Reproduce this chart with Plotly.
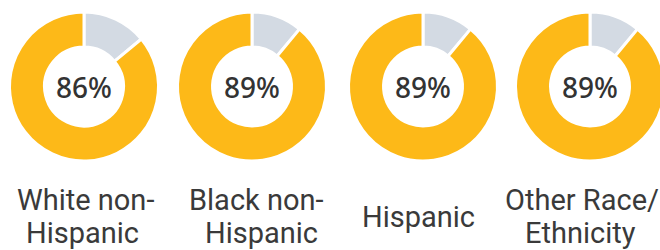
import plotly.graph_objects as go

groups = ["White non-<br>Hispanic", "Black non-<br>Hispanic", "Hispanic", "Other Race/<br>Ethnicity"]
pct_yes = [86, 89, 89, 89]
pct_no = [14, 11, 11, 11]
center_labels = ["86%", "89%", "89%", "89%"]

W, H = 676, 250
donut_cx = [84, 252, 423, 590]
# per-line horizontal centres of the category labels
label_line_cx = [[85.5, 82.5], [256.5, 261], [418], [581.5, 580.5]]
cy, r = 86.5, 74.5
line_gap = 32.6
label_mid = 216.5

YELLOW = "#FDB918"
GRAY = "#D3DAE3"

fig = go.Figure()
for i in range(len(groups)):
    cx = donut_cx[i]
    fig.add_trace(go.Pie(
        values=[pct_no[i], pct_yes[i]],
        labels=["No", "Yes"],
        sort=False,
        direction="clockwise",
        rotation=0,
        hole=0.53,
        marker=dict(colors=[GRAY, YELLOW], line=dict(color="white", width=3)),
        textinfo="none",
        hoverinfo="skip",
        showlegend=False,
        domain=dict(x=[(cx - r) / W, (cx + r) / W], y=[1 - (cy + r) / H, 1 - (cy - r) / H]),
    ))
    fig.add_annotation(
        x=cx / W, y=1 - cy / H, xref="paper", yref="paper",
        text=center_labels[i], showarrow=False,
        font=dict(family="Noto Sans", size=28, color="#333333", weight=500),
        xanchor="center", yanchor="middle",
    )
    lines = groups[i].split("<br>")
    n = len(lines)
    for j, line in enumerate(lines):
        ymid = label_mid + (j - (n - 1) / 2) * line_gap
        fig.add_annotation(
            x=label_line_cx[i][j] / W, y=1 - ymid / H, xref="paper", yref="paper",
            text=line, showarrow=False,
            font=dict(family="Roboto", size=29, color="#3a3a3a"),
            xanchor="center", yanchor="middle", align="center",
        )

fig.update_layout(
    width=W, height=H,
    margin=dict(l=0, r=0, t=0, b=0),
    paper_bgcolor="white", plot_bgcolor="white",
)
fig.write_html(
    "out.html",
    config={"displayModeBar": False},
    post_script="document.body.style.margin='0';document.body.style.overflow='hidden';",
)
